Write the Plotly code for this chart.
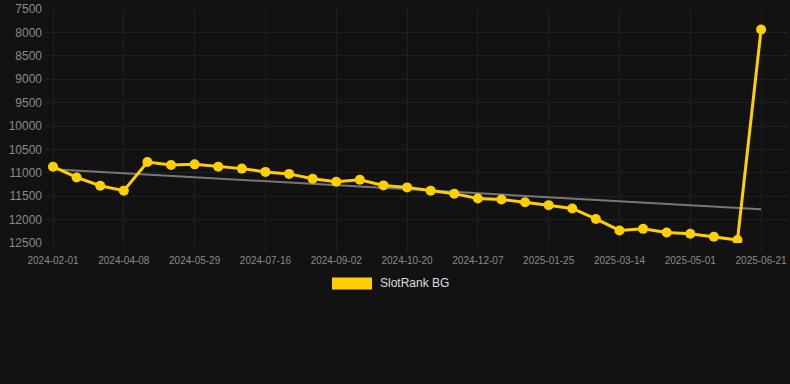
import plotly.graph_objects as go

dates = [
    "2024-02-01", "2024-02-23", "2024-03-16", "2024-04-08", "2024-04-25", "2024-05-12",
    "2024-05-29", "2024-06-14", "2024-06-30", "2024-07-16", "2024-08-01", "2024-08-17",
    "2024-09-02", "2024-09-18", "2024-10-04", "2024-10-20", "2024-11-05", "2024-11-21",
    "2024-12-07", "2024-12-23", "2025-01-08", "2025-01-25", "2025-02-10", "2025-02-26",
    "2025-03-14", "2025-03-30", "2025-04-15", "2025-05-01", "2025-05-18", "2025-06-04",
    "2025-06-21",
]
ranks = [
    10870, 11100, 11277, 11382, 10770, 10834, 10820, 10869, 10911, 10981, 11024, 11129,
    11192, 11150, 11270, 11312, 11382, 11446, 11551, 11572, 11629, 11692, 11762, 11987,
    12233, 12199, 12275, 12304, 12367, 12437, 7936,
]
tick_labels = dates[::3]
trend_values = [10925, 11777]
y_ticks = [7500, 8000, 8500, 9000, 9500, 10000, 10500, 11000, 11500, 12000, 12500]
y_tick_text = [str(v) for v in y_ticks]
series_name = "SlotRank BG"

BG = "#121212"
GOLD = "#FFD000"
GRID = "#202020"
TICK = "#8a8a8a"
FONT = "Liberation Sans, Arial, sans-serif"

fig = go.Figure()
fig.add_trace(go.Scatter(
    x=[dates[0], dates[-1]], y=trend_values, mode="lines",
    line=dict(color="#777777", width=2), showlegend=False, hoverinfo="skip",
))
fig.add_trace(go.Scatter(
    x=dates, y=ranks, mode="lines+markers", name=series_name,
    line=dict(color=GOLD, width=3),
    marker=dict(color=GOLD, size=10),
    showlegend=False,
))

n = len(dates)
fig.update_layout(
    width=790, height=384,
    paper_bgcolor=BG, plot_bgcolor=BG,
    margin=dict(l=45, r=2, t=6, b=141),
    font=dict(family=FONT, color=TICK),
    xaxis=dict(
        type="category", categoryorder="array", categoryarray=dates,
        range=[-0.34, n - 1 + 1.14],
        tickmode="array", tickvals=tick_labels, ticktext=tick_labels,
        showgrid=True, gridcolor=GRID, gridwidth=1,
        ticks="outside", ticklen=8, tickcolor=GRID,
        tickfont=dict(size=10, color=TICK, family=FONT),
        showline=False, zeroline=False,
    ),
    yaxis=dict(
        range=[12501, 7499], tickmode="array", tickvals=y_ticks, ticktext=y_tick_text,
        showgrid=True, gridcolor=GRID, gridwidth=1,
        ticks="", tickfont=dict(size=12, color=TICK, family=FONT),
        showline=False, zeroline=False, ticklabelstandoff=2,
        ticklabeloverflow="allow",
    ),
    shapes=[dict(
        type="rect", xref="paper", yref="paper",
        x0=(332 - 45) / 743, x1=(372 - 45) / 743,
        y0=-(290 - 243) / 237, y1=-(278 - 243) / 237,
        fillcolor=GOLD, line=dict(width=0),
    )],
    annotations=[dict(
        text=series_name, xref="paper", yref="paper",
        x=(378 - 45) / 743, y=-(284 - 243) / 237,
        xanchor="left", yanchor="middle", showarrow=False,
        font=dict(size=12, color="#dddddd", family=FONT),
    )],
)

fig.write_html(
    "out.html",
    config={"displayModeBar": False},
    post_script="document.body.style.margin='0';document.body.style.background='#121212';",
)
